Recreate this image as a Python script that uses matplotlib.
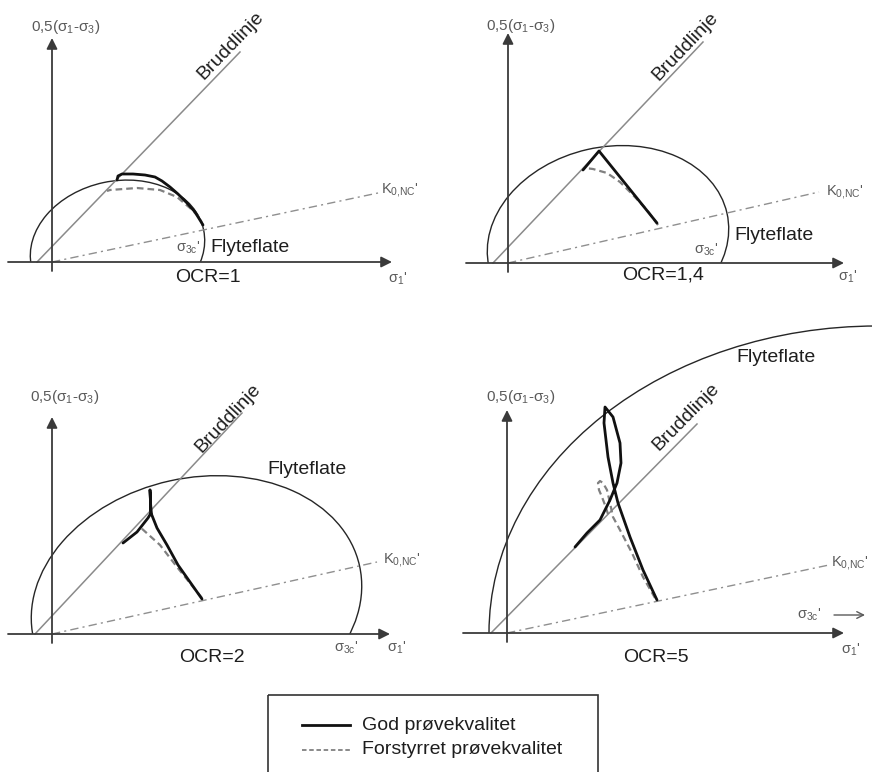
import numpy as np
import matplotlib
matplotlib.use("Agg")
import matplotlib.pyplot as plt
from matplotlib.patches import Ellipse, Rectangle

plt.rcParams['font.family'] = ['Liberation Sans', 'DejaVu Sans']
plt.rcParams['mathtext.fontset'] = 'custom'
plt.rcParams['mathtext.rm'] = 'Liberation Sans'
plt.rcParams['mathtext.it'] = 'Liberation Sans'

# ---------------- data (stress space, origin at axis crossing) ----------------
OCR_LABELS = ["OCR=1", "OCR=1,4", "OCR=2", "OCR=5"]
LEGEND_LABELS = ["God prøvekvalitet", "Forstyrret prøvekvalitet"]

# yield surface (Flyteflate) ellipses: centre, semi-axes, rotation (deg)
YIELD_CX = [65.5, 100.0, 144.5, 370.0]
YIELD_CY = [13.9, 22.8, 32.0, 0.0]
YIELD_A = [88.0, 122.0, 167.0, 388.0]
YIELD_B = [67.0, 93.0, 124.0, 307.0]
YIELD_ANG = [11.95, 12.86, 12.5, 0.0]

# failure line (Bruddlinje): start on p-axis, end point
FAIL_X0 = [-15, -15, -17, -16]
FAIL_X1 = [188, 195, 190, 190]
FAIL_Y1 = [210, 221, 221, 209]

# K0,NC line end point
K0_X1 = [326, 311, 325, 322]
K0_Y1 = [69, 71, 72, 68]

# stress paths: good quality (solid) and disturbed (dashed)
GOOD1_P = [151, 143, 135, 126, 118, 110, 103, 93, 81, 70, 66, 65]
GOOD1_Q = [37, 50, 59, 68, 75, 81, 85, 87, 88, 88, 86, 82]
DIST1_P = [151, 148, 138, 125, 108, 85, 58, 55]
DIST1_Q = [36, 44, 54, 65, 72, 74, 72, 71]

GOOD2_P = [149, 91, 75]
GOOD2_Q = [40, 112, 93]
DIST2_P = [150, 139, 125, 112, 99, 85, 77]
DIST2_Q = [38, 53, 68, 81, 90, 94, 95]

GOOD3_P = [150, 138, 126, 115, 105, 99, 98, 99, 96, 85, 71]
GOOD3_Q = [35, 52, 69, 89, 106, 121, 144, 121, 116, 102, 91]
DIST3_P = [150, 125, 108, 88]
DIST3_Q = [36, 67, 89, 107]

GOOD4_P = [150, 136, 123, 111, 106, 101, 97, 98, 106, 113, 114, 110, 103, 93, 80, 68]
GOOD4_Q = [33, 63, 96, 130, 150, 176, 210, 226, 216, 190, 170, 150, 133, 113, 100, 86]
DIST4_P = [148, 136, 125, 113, 106, 103, 100, 96, 93, 91, 92, 95, 98, 101]
DIST4_Q = [35, 56, 80, 103, 116, 130, 143, 150, 152, 150, 143, 136, 128, 119]

GOOD_P = [GOOD1_P, GOOD2_P, GOOD3_P, GOOD4_P]
GOOD_Q = [GOOD1_Q, GOOD2_Q, GOOD3_Q, GOOD4_Q]
DIST_P = [DIST1_P, DIST2_P, DIST3_P, DIST4_P]
DIST_Q = [DIST1_Q, DIST2_Q, DIST3_Q, DIST4_Q]

# ---------------- layout ----------------
W, H = 872, 772
ORIGINS = [(52, 262), (508, 263), (52, 634), (507, 633)]
VAXIS_TOP = [224, 230, 217, 223]
HAXIS_LEFT = [-44, -42, -44, -44]
HAXIS_RIGHT = [340, 336, 338, 337]
YLAB_POS = [(14, 235), (13, 237), (13, 237), (14, 236)]
BRUDD_POS = [(179, 216), (177, 217), (176, 216), (179, 216)]
K0LAB_POS = [(329, 72), (318, 71), (331, 74), (324, 70)]
FLYTE_POS = [(198, 15), (266, 28), (255, 164), (269, 276)]
S3C_POS = [(136, 14), (198, 13), (294, -14), (302, 18)]
S1_POS = [(346, -17), (340, -14), (345, -14), (344, -17)]
OCR_POS = [(156, -15), (155, -12), (160, -24), (149, -25)]

AX_COL = '#3a3a3a'
TXT = '#1e1e1e'
SMALL = '#5a5a5a'

fig = plt.figure(figsize=(W / 100, H / 100), dpi=100)
fig.patch.set_facecolor('white')

for i in range(4):
    ox, oy = ORIGINS[i]
    ax = fig.add_axes([0, 0, 1, 1])
    ax.set_xlim(-ox, W - ox)
    ax.set_ylim(oy - H, oy)
    ax.axis('off')
    ax.patch.set_alpha(0)

    # axes with arrows
    ax.annotate('', xy=(HAXIS_RIGHT[i], 0), xytext=(HAXIS_LEFT[i], 0),
                arrowprops=dict(arrowstyle='-|>', color=AX_COL, lw=1.3,
                                mutation_scale=16, shrinkA=0, shrinkB=0))
    ax.annotate('', xy=(0, VAXIS_TOP[i]), xytext=(0, -9),
                arrowprops=dict(arrowstyle='-|>', color=AX_COL, lw=1.3,
                                mutation_scale=16, shrinkA=0, shrinkB=0))

    # failure line
    ax.plot([FAIL_X0[i], FAIL_X1[i]], [0, FAIL_Y1[i]], color='#8a8a8a', lw=1.1)
    ang = np.degrees(np.arctan2(FAIL_Y1[i], FAIL_X1[i] - FAIL_X0[i]))
    ax.text(*BRUDD_POS[i], 'Bruddlinje', rotation=ang, rotation_mode='anchor',
            ha='center', va='center', fontsize=14, color=TXT)

    # K0 line
    ax.plot([0, K0_X1[i]], [0, K0_Y1[i]], color='#8f8f8f', lw=1.0,
            linestyle=(0, (6, 3, 1.5, 3)))
    ax.text(*K0LAB_POS[i], r"K$_\mathregular{0{,}NC}$'", ha='left', va='center',
            fontsize=10.5, color=SMALL)

    # yield surface
    e = Ellipse((YIELD_CX[i], YIELD_CY[i]), 2 * YIELD_A[i], 2 * YIELD_B[i],
                angle=YIELD_ANG[i], fill=False, ec='#262626', lw=1.0)
    ax.add_patch(e)
    clip = Rectangle((-2000, 0), 4000, 4000, transform=ax.transData)
    e.set_clip_path(clip)

    # stress paths
    ax.plot(DIST_P[i], DIST_Q[i], color='#808080', lw=1.6,
            linestyle=(0, (3, 1.8)), solid_joinstyle='round')
    ax.plot(GOOD_P[i], GOOD_Q[i], color='#111111', lw=2.0,
            solid_joinstyle='round', solid_capstyle='round')

    # labels
    ax.text(*YLAB_POS[i], r"0,5(σ$_\mathregular{1}$-σ$_\mathregular{3}$)",
            ha='center', va='center', fontsize=11, color=SMALL)
    ax.text(*FLYTE_POS[i], 'Flyteflate', ha='center', va='center',
            fontsize=14, color=TXT)
    ax.text(*S3C_POS[i], r"σ$_\mathregular{3c}$'", ha='center', va='center',
            fontsize=10.5, color=SMALL)
    ax.text(*S1_POS[i], r"σ$_\mathregular{1}$'", ha='center', va='center',
            fontsize=10.5, color=SMALL)
    ax.text(*OCR_POS[i], OCR_LABELS[i], ha='center', va='center',
            fontsize=14, color=TXT)
    if i == 3:
        sx, sy = S3C_POS[i]
        ax.annotate('', xy=(sx + 56, sy), xytext=(sx + 25, sy),
                    arrowprops=dict(arrowstyle='->', color=SMALL, lw=1.0,
                                    mutation_scale=12, shrinkA=0, shrinkB=0))

# legend (drawn in figure pixel space)
lg = fig.add_axes([0, 0, 1, 1])
lg.set_xlim(0, W)
lg.set_ylim(H, 0)
lg.axis('off')
lg.patch.set_alpha(0)
lg.add_patch(Rectangle((268, 695), 330, 120, fill=False, ec='#333333', lw=1.2))
LEG_Y = [725, 750]
lg.plot([302, 350], [LEG_Y[0]] * 2, color='#111111', lw=2.0)
lg.plot([302, 350], [LEG_Y[1]] * 2, color='#808080', lw=1.3, linestyle=(0, (2.5, 1.5)))
for yy, lab in zip(LEG_Y, LEGEND_LABELS):
    lg.text(362, yy, lab, ha='left', va='center', fontsize=14, color=TXT)

fig.savefig('out.png', dpi=100, facecolor='white')
